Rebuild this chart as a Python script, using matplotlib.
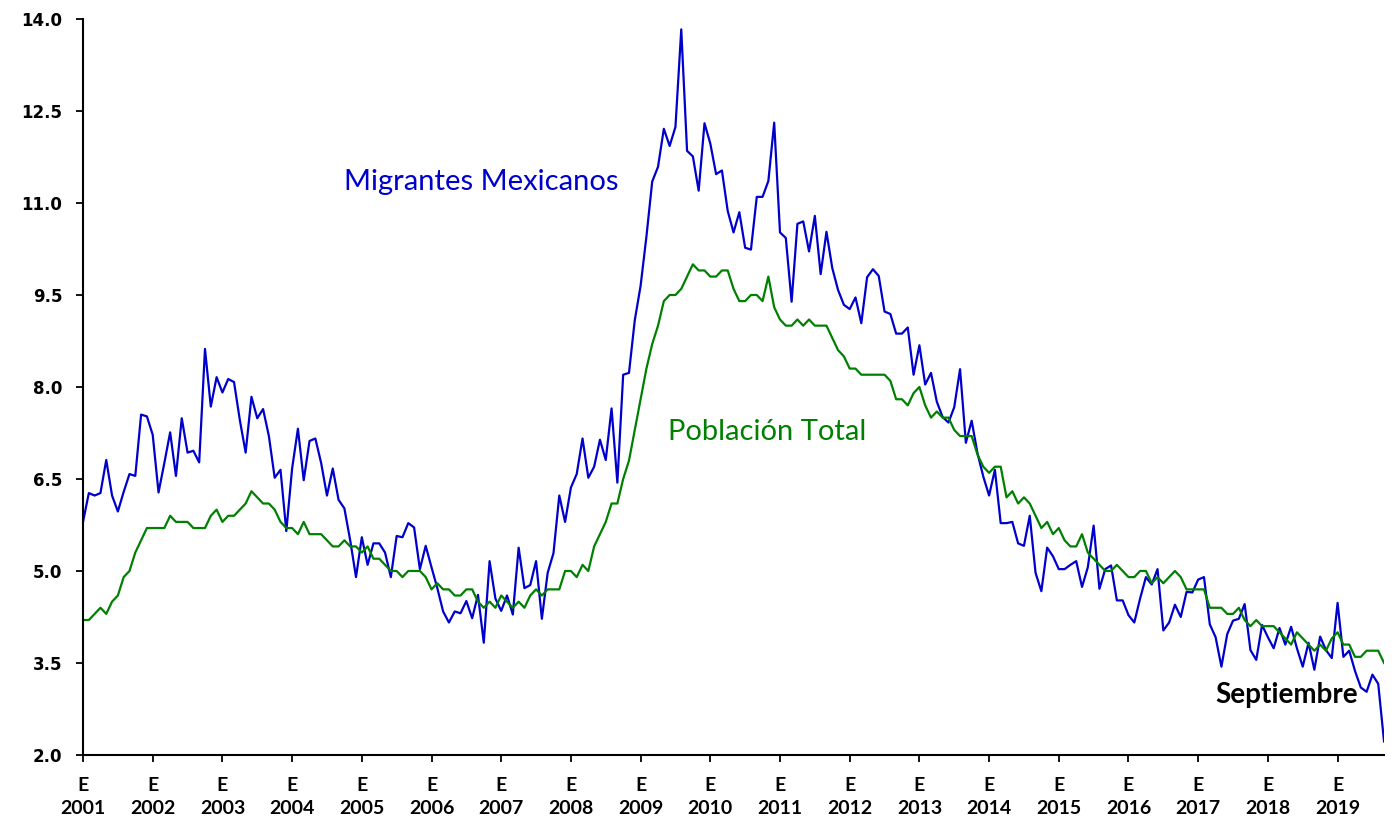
import numpy as np
import matplotlib
matplotlib.use("Agg")
import matplotlib.pyplot as plt

# monthly series, Jan 2001 - Sep 2019
migrantes = [
    5.80, 6.27, 6.23, 6.27, 6.81, 6.23, 5.97, 6.29, 6.58, 6.55, 7.55, 7.52,   # 2001
    7.22, 6.28, 6.76, 7.26, 6.55, 7.49, 6.93, 6.96, 6.77, 8.62, 7.68, 8.16,   # 2002
    7.91, 8.13, 8.08, 7.46, 6.93, 7.84, 7.49, 7.64, 7.20, 6.52, 6.65, 5.65,   # 2003
    6.67, 7.32, 6.48, 7.12, 7.16, 6.76, 6.23, 6.67, 6.16, 6.02, 5.50, 4.90,   # 2004
    5.55, 5.10, 5.45, 5.45, 5.30, 4.90, 5.57, 5.55, 5.78, 5.71, 5.03, 5.41,   # 2005
    5.06, 4.72, 4.34, 4.16, 4.34, 4.31, 4.51, 4.23, 4.61, 3.83, 5.16, 4.55,   # 2006
    4.35, 4.60, 4.29, 5.38, 4.72, 4.77, 5.16, 4.22, 4.97, 5.29, 6.23, 5.80,   # 2007
    6.36, 6.58, 7.16, 6.52, 6.70, 7.14, 6.81, 7.65, 6.44, 8.20, 8.23, 9.09,   # 2008
    9.65, 10.45, 11.35, 11.59, 12.21, 11.93, 12.24, 13.83, 11.85, 11.76, 11.20, 12.30,  # 2009
    11.97, 11.47, 11.53, 10.87, 10.52, 10.85, 10.27, 10.24, 11.10, 11.10, 11.36, 12.31,  # 2010
    10.52, 10.43, 9.39, 10.66, 10.70, 10.21, 10.79, 9.84, 10.53, 9.94, 9.58, 9.34,  # 2011
    9.27, 9.46, 9.04, 9.79, 9.92, 9.81, 9.23, 9.19, 8.87, 8.87, 8.97, 8.20,   # 2012
    8.68, 8.04, 8.23, 7.76, 7.51, 7.42, 7.67, 8.29, 7.09, 7.45, 6.92, 6.54,   # 2013
    6.23, 6.65, 5.78, 5.78, 5.80, 5.45, 5.41, 5.90, 4.97, 4.67, 5.38, 5.24,   # 2014
    5.03, 5.03, 5.10, 5.16, 4.74, 5.06, 5.74, 4.71, 5.03, 5.09, 4.52, 4.52,   # 2015
    4.28, 4.16, 4.55, 4.90, 4.78, 5.03, 4.03, 4.16, 4.45, 4.25, 4.66, 4.65,   # 2016
    4.86, 4.90, 4.13, 3.92, 3.44, 3.97, 4.19, 4.22, 4.46, 3.71, 3.55, 4.12,   # 2017
    3.92, 3.74, 4.07, 3.80, 4.09, 3.74, 3.44, 3.83, 3.39, 3.93, 3.71, 3.58,   # 2018
    4.48, 3.60, 3.70, 3.37, 3.10, 3.03, 3.31, 3.16, 2.22,                     # 2019
]

poblacion = [
    4.2, 4.2, 4.3, 4.4, 4.3, 4.5, 4.6, 4.9, 5.0, 5.3, 5.5, 5.7,   # 2001
    5.7, 5.7, 5.7, 5.9, 5.8, 5.8, 5.8, 5.7, 5.7, 5.7, 5.9, 6.0,   # 2002
    5.8, 5.9, 5.9, 6.0, 6.1, 6.3, 6.2, 6.1, 6.1, 6.0, 5.8, 5.7,   # 2003
    5.7, 5.6, 5.8, 5.6, 5.6, 5.6, 5.5, 5.4, 5.4, 5.5, 5.4, 5.4,   # 2004
    5.3, 5.4, 5.2, 5.2, 5.1, 5.0, 5.0, 4.9, 5.0, 5.0, 5.0, 4.9,   # 2005
    4.7, 4.8, 4.7, 4.7, 4.6, 4.6, 4.7, 4.7, 4.5, 4.4, 4.5, 4.4,   # 2006
    4.6, 4.5, 4.4, 4.5, 4.4, 4.6, 4.7, 4.6, 4.7, 4.7, 4.7, 5.0,   # 2007
    5.0, 4.9, 5.1, 5.0, 5.4, 5.6, 5.8, 6.1, 6.1, 6.5, 6.8, 7.3,   # 2008
    7.8, 8.3, 8.7, 9.0, 9.4, 9.5, 9.5, 9.6, 9.8, 10.0, 9.9, 9.9,  # 2009
    9.8, 9.8, 9.9, 9.9, 9.6, 9.4, 9.4, 9.5, 9.5, 9.4, 9.8, 9.3,   # 2010
    9.1, 9.0, 9.0, 9.1, 9.0, 9.1, 9.0, 9.0, 9.0, 8.8, 8.6, 8.5,   # 2011
    8.3, 8.3, 8.2, 8.2, 8.2, 8.2, 8.2, 8.1, 7.8, 7.8, 7.7, 7.9,   # 2012
    8.0, 7.7, 7.5, 7.6, 7.5, 7.5, 7.3, 7.2, 7.2, 7.2, 6.9, 6.7,   # 2013
    6.6, 6.7, 6.7, 6.2, 6.3, 6.1, 6.2, 6.1, 5.9, 5.7, 5.8, 5.6,   # 2014
    5.7, 5.5, 5.4, 5.4, 5.6, 5.3, 5.2, 5.1, 5.0, 5.0, 5.1, 5.0,   # 2015
    4.9, 4.9, 5.0, 5.0, 4.8, 4.9, 4.8, 4.9, 5.0, 4.9, 4.7, 4.7,   # 2016
    4.7, 4.7, 4.4, 4.4, 4.4, 4.3, 4.3, 4.4, 4.2, 4.1, 4.2, 4.1,   # 2017
    4.1, 4.1, 4.0, 3.9, 3.8, 4.0, 3.9, 3.8, 3.7, 3.8, 3.7, 3.9,   # 2018
    4.0, 3.8, 3.8, 3.6, 3.6, 3.7, 3.7, 3.7, 3.5,                  # 2019
]

years = list(range(2001, 2020))
year_labels = ["E\n%d" % y for y in years]
y_ticks = [2.0, 3.5, 5.0, 6.5, 8.0, 9.5, 11.0, 12.5, 14.0]

# time axis in decimal years
t = 2001 + np.arange(len(migrantes)) / 12.0

fig = plt.figure(figsize=(14, 8.26), dpi=100)
ax = fig.add_axes([0.0593, 0.086, 0.9293, 0.891])

ax.plot(t, migrantes, color="#0000CC", lw=1.6)
ax.plot(t, poblacion, color="#008000", lw=1.6)

ax.set_xlim(t[0], t[-1])
ax.set_ylim(2, 14)

ax.set_xticks(years)
ax.set_xticklabels(year_labels, fontfamily="Lato", fontweight="bold",
                   fontsize=14, linespacing=1.45)
ax.set_yticks(y_ticks)
ax.set_yticklabels(["%.1f" % v for v in y_ticks], fontfamily="DejaVu Sans",
                   fontweight="bold", fontsize=12)

ax.tick_params(axis="x", direction="out", length=5, width=1.3, pad=11)
ax.tick_params(axis="y", direction="out", length=5, width=1.3, pad=10)

for s in ["top", "right"]:
    ax.spines[s].set_visible(False)
for s in ["left", "bottom"]:
    ax.spines[s].set_linewidth(1.5)

ax.text(2004.75, 11.35, "Migrantes Mexicanos", color="#0000CC",
        fontfamily="Lato", fontsize=21, va="center", ha="left")
ax.text(2009.39, 7.27, "Población Total", color="#008000",
        fontfamily="Lato", fontsize=21, va="center", ha="left")
ax.text(2019.29, 2.98, "Septiembre", color="black", fontfamily="Lato",
        fontweight="bold", fontsize=20, va="center", ha="right")

fig.savefig("out.png", dpi=100)
